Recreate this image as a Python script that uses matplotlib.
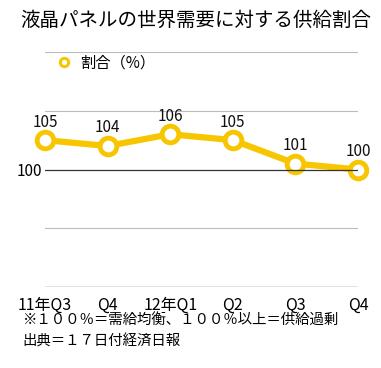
import matplotlib
matplotlib.use('Agg')
import matplotlib.pyplot as plt
from matplotlib.lines import Line2D

plt.rcParams['font.family'] = ['Noto Sans CJK JP', 'DejaVu Sans']

quarters = ['11年Q3', 'Q4', '12年Q1', 'Q2', 'Q3', 'Q4']
ratio = [105, 104, 106, 105, 101, 100]
title = '液晶パネルの世界需要に対する供給割合'
note1 = '※１００％＝需給均衡、１００％以上＝供給過剰'
note2 = '出典＝１７日付経済日報'

gold = '#F7C600'

fig = plt.figure(figsize=(3.81, 3.68), dpi=100)
ax = fig.add_axes([45/381, 1 - 287/368, 313/381, 235/368])

x = list(range(len(quarters)))
ax.plot(x, ratio, color=gold, lw=4.5, marker='o', ms=12, mfc='white',
        mec=gold, mew=3.5, zorder=3, clip_on=False)
for xi, v in zip(x, ratio):
    ax.annotate(str(v), (xi, v), xytext=(0, 13), textcoords='offset points',
                ha='center', va='center', fontsize=11, color='#111111')

ax.set_xlim(0, 5)
ax.set_ylim(80, 120)
for yv in [90, 110, 120]:
    ax.axhline(yv, color='#bbbbbb', lw=0.8, zorder=1)
ax.axhline(100, color='#333333', lw=0.9, zorder=4)
ax.axhline(80, color='#6a7080', lw=1.0, zorder=1)

ax.set_xticks(x)
ax.set_xticklabels(quarters, fontsize=11.5)
ax.set_yticks([100])
ax.set_yticklabels(['100'], fontsize=11)
ax.tick_params(axis='x', length=0, pad=7)
ax.tick_params(axis='y', length=0, pad=2)
for s in ax.spines.values():
    s.set_visible(False)

handle = Line2D([], [], color=gold, marker='o', ms=6, mfc='white', mew=2.2, lw=0)
ax.legend([handle], ['割合（%）'], loc='center left', bbox_to_anchor=(0.035, 0.953),
          frameon=False, fontsize=11, handlelength=1.0, handletextpad=0.6,
          borderpad=0, borderaxespad=0)

fig.text(20/381, 1 - 20/368, title, fontsize=14, va='center', ha='left')
fig.text(22/381, 1 - 321/368, note1, fontsize=10.4, va='center', ha='left')
fig.text(22/381, 1 - 342/368, note2, fontsize=10.4, va='center', ha='left')

fig.savefig('out.png', dpi=100)
